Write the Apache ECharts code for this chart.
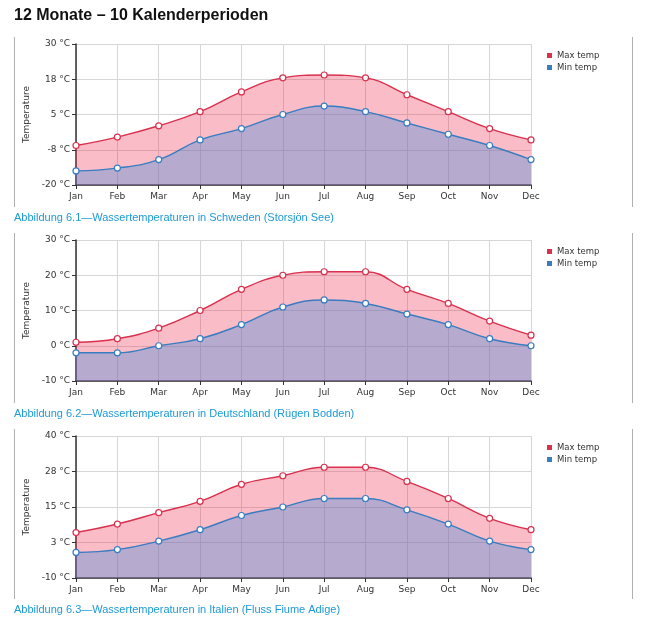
<!DOCTYPE html>
<html>
<head>
<meta charset="utf-8">
<script src="https://cdn.jsdelivr.net/npm/echarts@6/dist/echarts.min.js"></script>
<style>html,body{margin:0;padding:0;background:#fff;}#c{width:650px;height:624px;}</style>
</head>
<body>
<div id="c"></div>
<script>
const months = ['Jan','Feb','Mar','Apr','May','Jun','Jul','Aug','Sep','Oct','Nov','Dec'];
const maxSchweden = [-6,-3,1,6,13,18,19,18,12,6,0,-4];
const minSchweden = [-15,-14,-11,-4,0,5,8,6,2,-2,-6,-11];
const maxDeutschland = [1,2,5,10,16,20,21,21,16,12,7,3];
const minDeutschland = [-2,-2,0,2,6,11,13,12,9,6,2,0];
const maxItalien = [6,9,13,17,23,26,29,29,24,18,11,7];
const minItalien = [-1,0,3,7,12,15,18,18,14,9,3,0];
const yMins = [-20,-10,-10];
const yMaxs = [30,30,40];
const yIntervals = [12.5,10,12.5];
const seriesNames = ['Max temp','Min temp'];
const title = '12 Monate \u2013 10 Kalenderperioden';
const captions = [
  'Abbildung 6.1\u2014Wassertemperaturen in Schweden (Storsj\u00f6n See)',
  'Abbildung 6.2\u2014Wassertemperaturen in Deutschland (R\u00fcgen Bodden)',
  'Abbildung 6.3\u2014Wassertemperaturen in Italien (Fluss Fiume Adige)'
];
const axisName = 'Temperature';

const maxData = [maxSchweden, maxDeutschland, maxItalien];
const minData = [minSchweden, minDeutschland, minItalien];

const gridTops = [44, 240, 436];
const gridHeights = [141, 141, 142];
const redLine = '#d9304e', blueLine = '#3a7cc0';
const font = 'DejaVu Sans';

const grids = [], xAxes = [], yAxes = [], series = [], legends = [], graphics = [];
graphics.push({type:'text', left:14, top:8, style:{text:title, font:'bold 16px "Liberation Sans", Arial, sans-serif', fill:'#111'}});

for (let i = 0; i < 3; i++) {
  const top = gridTops[i];
  grids.push({left:76, top:top, width:455, height:gridHeights[i]});
  xAxes.push({
    type:'category', gridIndex:i, data:months, boundaryGap:false,
    axisLine:{onZero:false, lineStyle:{color:'#333', width:1.5}},
    axisTick:{show:true, length:4, lineStyle:{color:'#333'}},
    axisLabel:{fontSize:9, color:'#333', fontFamily:font, margin:7},
    splitLine:{show:true, lineStyle:{color:'#d6d6d6', width:1}}
  });
  yAxes.push({
    type:'value', gridIndex:i, min:yMins[i], max:yMaxs[i], interval:yIntervals[i],
    name:axisName, nameLocation:'middle', nameGap:35, nameRotate:90,
    nameTextStyle:{fontSize:9, color:'#333', fontFamily:font},
    axisLine:{show:true, lineStyle:{color:'#333', width:1.5}},
    axisTick:{show:true, length:4, lineStyle:{color:'#333'}},
    axisLabel:{fontSize:9, color:'#333', fontFamily:font, margin:6,
      formatter: v => v.toFixed(0) + ' \u00b0C'},
    splitLine:{show:true, lineStyle:{color:'#d6d6d6', width:1}}
  });
  series.push({
    name:seriesNames[0], type:'line', xAxisIndex:i, yAxisIndex:i, data:maxData[i],
    smooth:0.45, symbol:'circle', symbolSize:6,
    lineStyle:{color:redLine, width:1.4},
    itemStyle:{color:'#fff', borderColor:redLine, borderWidth:1.2},
    areaStyle:{origin:'start', color:'rgba(240,50,80,0.46)'}
  });
  series.push({
    name:seriesNames[1], type:'line', xAxisIndex:i, yAxisIndex:i, data:minData[i],
    smooth:0.45, symbol:'circle', symbolSize:6,
    lineStyle:{color:blueLine, width:1.4},
    itemStyle:{color:'#fff', borderColor:blueLine, borderWidth:1.2},
    areaStyle:{origin:'start', color:'rgba(60,135,220,0.5)'}
  });
  legends.push({
    orient:'vertical', left:542, top:top + 2, itemWidth:5, itemHeight:5, itemGap:3,
    icon:'rect', textStyle:{fontSize:8.5, color:'#333', fontFamily:font},
    data:[{name:seriesNames[0], itemStyle:{color:redLine, borderWidth:0}},
          {name:seriesNames[1], itemStyle:{color:blueLine, borderWidth:0}}],
    selectedMode:false
  });
  const y0 = top - 7, y1 = top + 163;
  graphics.push({type:'line', shape:{x1:14.5, y1:y0, x2:14.5, y2:y1}, style:{stroke:'#b0b0b0', lineWidth:1}});
  graphics.push({type:'line', shape:{x1:632.5, y1:y0, x2:632.5, y2:y1}, style:{stroke:'#b0b0b0', lineWidth:1}});
  graphics.push({type:'text', x:14, y:top + 174, style:{text:captions[i], font:'11px "Liberation Sans", Arial, sans-serif', fill:'#1d9ad6', verticalAlign:'middle'}});
}

const chart = echarts.init(document.getElementById('c'), null, {renderer:'canvas'});
chart.setOption({
  animation:false,
  backgroundColor:'#fff',
  grid:grids, xAxis:xAxes, yAxis:yAxes, series:series, legend:legends, graphic:graphics
});
</script>
</body>
</html>
